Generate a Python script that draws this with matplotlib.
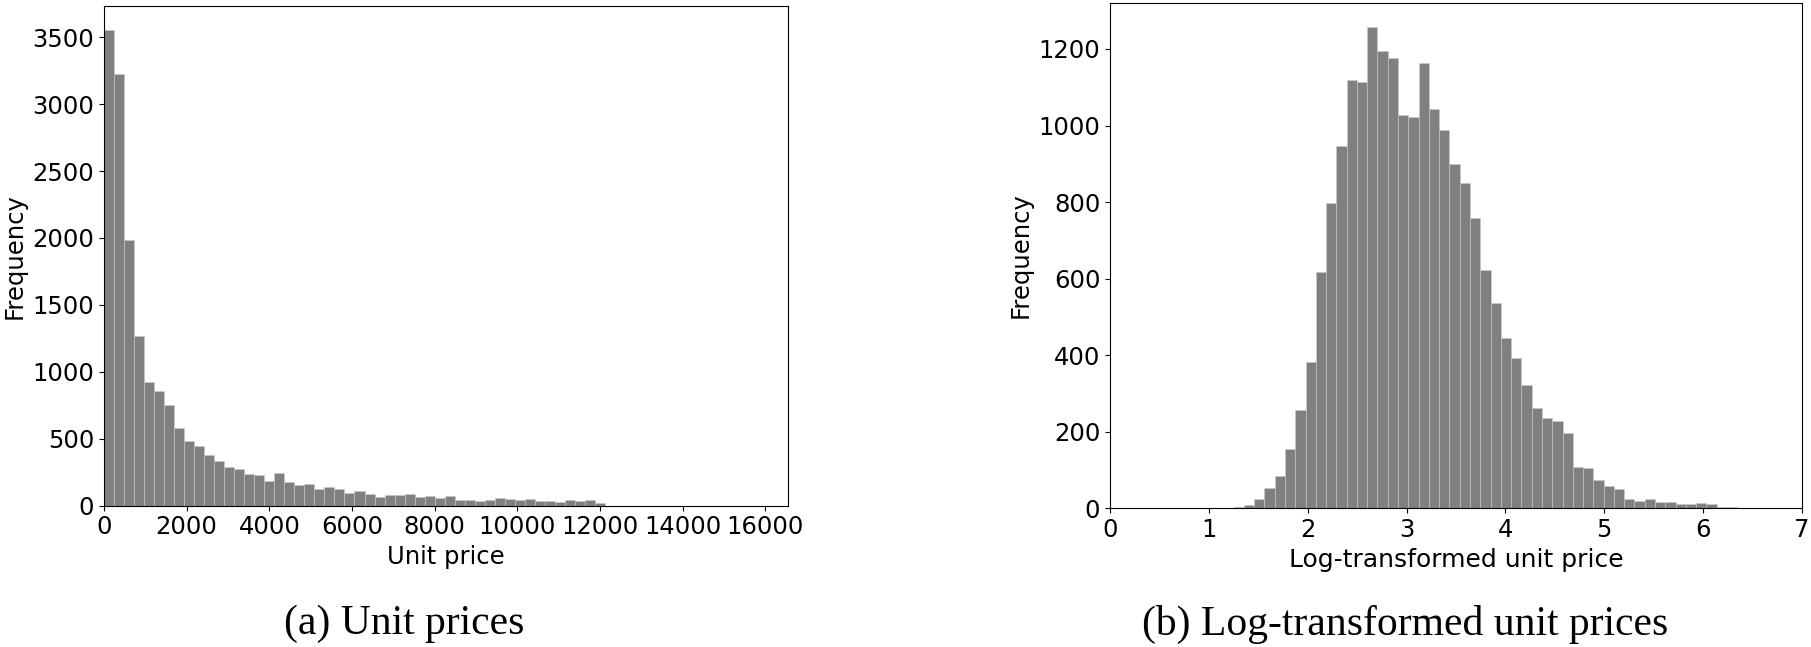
import numpy as np
import matplotlib
matplotlib.use("Agg")
import matplotlib.pyplot as plt

# unit prices: 50 equal bins from 0 to ~12120
price_lo, price_hi = 0, 12120
price_counts = [3555, 3226, 1984, 1264, 925, 855, 750, 581, 484, 446,
                376, 332, 287, 277, 239, 232, 184, 242, 175, 152,
                160, 125, 137, 127, 95, 110, 85, 62, 80, 82,
                90, 67, 75, 57, 70, 45, 40, 35, 45, 57,
                47, 42, 50, 35, 35, 30, 42, 37, 40, 22]

# log-transformed unit prices: 49 equal bins from 1.25 to 6.345
log_lo, log_hi = 1.25, 6.345
log_counts = [3, 8, 23, 54, 85, 155, 256, 383, 618, 797,
              946, 1119, 1114, 1258, 1194, 1177, 1027, 1022, 1163, 1043,
              989, 900, 850, 759, 622, 536, 444, 392, 322, 262,
              236, 227, 198, 108, 105, 74, 58, 51, 25, 20,
              24, 17, 17, 11, 10, 14, 11, 3, 3]

price_ticks = [0, 2000, 4000, 6000, 8000, 10000, 12000, 14000, 16000]
log_ticks = [0, 1, 2, 3, 4, 5, 6, 7]

plt.rcParams['font.family'] = 'DejaVu Sans'
plt.rcParams['font.size'] = 17.5

fig = plt.figure(figsize=(18.11, 6.47), dpi=100)

W, H = 1811, 647
ax1 = fig.add_axes([104 / W, 1 - 505.7 / H, (787.7 - 104) / W, (505.7 - 6) / H])
ax2 = fig.add_axes([1110 / W, 1 - 508.3 / H, (1802 - 1110) / W, (508.3 - 2.7) / H])

edges1 = np.linspace(price_lo, price_hi, len(price_counts) + 1)
ax1.hist(edges1[:-1], bins=edges1, weights=price_counts,
         color='gray', edgecolor='#c8c8c8', linewidth=0.4)
ax1.set_xlim(0, 16540)
ax1.set_xticks(price_ticks)
ax1.set_xlabel('Unit price')
ax1.set_ylabel('Frequency')

edges2 = np.linspace(log_lo, log_hi, len(log_counts) + 1)
ax2.hist(edges2[:-1], bins=edges2, weights=log_counts,
         color='gray', edgecolor='#c8c8c8', linewidth=0.4)
ax2.set_xlim(0, 7)
ax2.set_xticks(log_ticks)
ax2.set_xlabel('Log-transformed unit price', fontsize=18)
ax2.set_ylabel('Frequency')

# subfigure captions (LaTeX style)
fig.text(404 / W, 1 - 624 / H, '(a) Unit prices', ha='center', va='center',
         family='Liberation Serif', fontsize=30)
fig.text(1405 / W, 1 - 624 / H, '(b) Log-transformed unit prices', ha='center', va='center',
         family='Liberation Serif', fontsize=30)

fig.savefig('out.png', dpi=100)
